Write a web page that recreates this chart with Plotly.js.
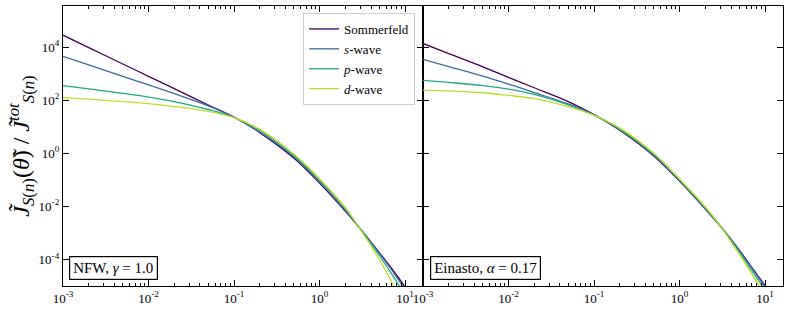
<!DOCTYPE html>
<html>
<head>
<meta charset="utf-8">
<script src="https://cdn.plot.ly/plotly-3.0.1.min.js"></script>
<style>html,body{margin:0;padding:0;background:#fff;}#chart{width:789px;height:309px;}</style>
</head>
<body>
<div id="chart"></div>
<script>
// angle theta (x values), shared by all curves
const theta = [0.001, 0.002, 0.005, 0.01, 0.02, 0.05, 0.1, 0.2, 0.5, 1, 2, 3, 5, 7, 10, 12];

// NFW, gamma = 1.0 (left panel)
const nfwSommerfeld = [28200, 9660, 2320, 794, 272, 66.1, 23.4, 6.03, 0.661, 0.0759, 0.00661, 0.00141, 1.82e-4, 4.47e-5, 9.33e-6, 3.98e-6];
const nfwS = [4470, 2140, 794, 380, 178, 61.7, 22.9, 6.31, 0.741, 0.0851, 0.00724, 0.00141, 1.70e-4, 3.98e-5, 7.41e-6, 3.16e-6];
const nfwP = [355, 269, 182, 132, 89.1, 44.7, 22.4, 7.24, 0.832, 0.100, 0.00832, 0.00141, 1.41e-4, 2.82e-5, 4.47e-6, 1.58e-6];
const nfwD = [126, 110, 89.1, 74.1, 57.5, 38.0, 21.9, 7.94, 0.933, 0.110, 0.00891, 0.00135, 1.00e-4, 1.41e-5, 2.0e-6, 6.3e-7];

// Einasto, alpha = 0.17 (right panel)
const einSommerfeld = [13800, 5750, 1820, 724, 295, 89.1, 28.8, 7.41, 0.794, 0.0891, 0.00794, 0.00178, 2.24e-4, 5.01e-5, 1.05e-5, 4.47e-6];
const einS = [3470, 1860, 813, 407, 195, 72.4, 28.2, 7.76, 0.851, 0.0933, 0.00832, 0.00182, 2.14e-4, 4.68e-5, 9.33e-6, 3.98e-6];
const einP = [562, 468, 355, 263, 166, 66.1, 27.5, 8.32, 0.933, 0.100, 0.00891, 0.00182, 1.91e-4, 3.80e-5, 7.08e-6, 2.82e-6];
const einD = [240, 224, 191, 151, 115, 57.5, 26.9, 8.91, 1.0, 0.107, 0.00955, 0.00182, 1.58e-4, 2.82e-5, 4.47e-6, 1.58e-6];

const seriesNames = ['Sommerfeld', '<i>s</i>-wave', '<i>p</i>-wave', '<i>d</i>-wave'];
const colors = ['#440154', '#3d6c9e', '#22a884', '#bddf26'];

const xTickVals = [0.001, 0.01, 0.1, 1, 10];
const xTickText = ['10<sup>-3</sup>', '10<sup>-2</sup>', '10<sup>-1</sup>', '10<sup>0</sup>', '10<sup>1</sup>'];
const yTickVals = [1e-4, 1e-2, 1, 1e2, 1e4];
const yTickText = ['10<sup>-4</sup>', '10<sup>-2</sup>', '10<sup>0</sup>', '10<sup>2</sup>', '10<sup>4</sup>'];

const left = [nfwSommerfeld, nfwS, nfwP, nfwD];
const right = [einSommerfeld, einS, einP, einD];

const traces = [];
left.forEach((ys, i) => traces.push({
  x: theta, y: ys, type: 'scatter', mode: 'lines', name: seriesNames[i],
  line: {color: colors[i], width: 1.3, shape: 'spline', smoothing: 1.0},
  xaxis: 'x', yaxis: 'y', showlegend: true
}));
right.forEach((ys, i) => traces.push({
  x: theta, y: ys, type: 'scatter', mode: 'lines', name: seriesNames[i],
  line: {color: colors[i], width: 1.3, shape: 'spline', smoothing: 1.0},
  xaxis: 'x2', yaxis: 'y2', showlegend: false
}));

const serif = 'Liberation Serif, DejaVu Serif, serif';
const xBase = {
  type: 'log', range: [-3, 1.21], tickmode: 'array', tickvals: xTickVals, ticktext: xTickText,
  ticks: 'inside', ticklen: 6, tickwidth: 1, tickcolor: '#000',
  minor: {ticks: 'inside', ticklen: 3, tickcolor: '#000', dtick: 'D1', showgrid: false},
  showline: true, linecolor: '#000', linewidth: 1.2, mirror: 'ticks',
  showgrid: false, zeroline: false, tickfont: {family: serif, size: 13, color: '#000'}
};
const yBase = {
  type: 'log', range: [-5, 5.55], tickmode: 'array', tickvals: yTickVals, ticktext: yTickText,
  ticks: 'inside', ticklen: 6, tickwidth: 1, tickcolor: '#000',
  showline: true, linecolor: '#000', linewidth: 1.2, mirror: 'ticks',
  showgrid: false, zeroline: false, tickfont: {family: serif, size: 13, color: '#000'}
};

const layout = {
  width: 789, height: 309,
  margin: {l: 63, r: 6, t: 6, b: 23},
  paper_bgcolor: '#fff', plot_bgcolor: '#fff',
  font: {family: serif, color: '#000'},
  xaxis: Object.assign({}, xBase, {domain: [0, 0.5], anchor: 'y'}),
  xaxis2: Object.assign({}, xBase, {domain: [0.5, 1], anchor: 'y2'}),
  yaxis: Object.assign({}, yBase, {anchor: 'x',
    title: {text: '<i>J̃</i><sub><i>S</i>(<i>n</i>)</sub>(<i>θ̃</i>) / <i>J̃</i><sup><i>tot</i></sup><sub><i>S</i>(<i>n</i>)</sub>',
      font: {family: serif, size: 24, color: '#000'}, standoff: 2}}),
  yaxis2: Object.assign({}, yBase, {anchor: 'x2', showticklabels: false}),
  legend: {
    x: 0.489, y: 0.975, xanchor: 'right', yanchor: 'top',
    bgcolor: '#fff', bordercolor: '#cccccc', borderwidth: 1,
    font: {family: serif, size: 13, color: '#000'}, tracegroupgap: 0
  },
  annotations: [
    {xref: 'paper', yref: 'paper', x: 0.0083, y: 0.021, xanchor: 'left', yanchor: 'bottom',
     text: 'NFW, <i>γ</i> = 1.0', showarrow: false, font: {family: serif, size: 15, color: '#000'},
     bgcolor: '#fff', bordercolor: '#000', borderwidth: 1.2, borderpad: 3},
    {xref: 'paper', yref: 'paper', x: 0.5097, y: 0.021, xanchor: 'left', yanchor: 'bottom',
     text: 'Einasto, <i>α</i> = 0.17', showarrow: false, font: {family: serif, size: 15, color: '#000'},
     bgcolor: '#fff', bordercolor: '#000', borderwidth: 1.2, borderpad: 3}
  ]
};

Plotly.newPlot('chart', traces, layout, {displayModeBar: false, staticPlot: true});
</script>
</body>
</html>
